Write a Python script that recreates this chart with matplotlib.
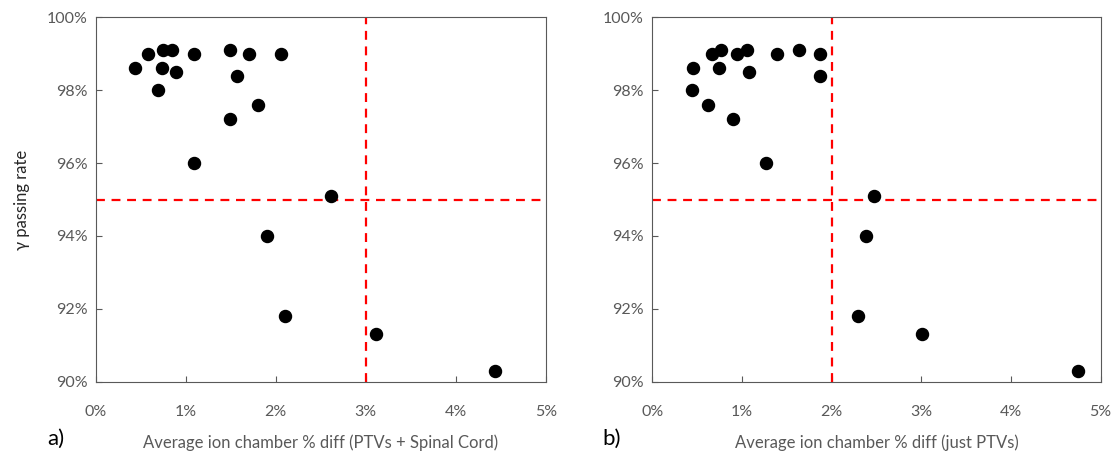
import matplotlib.pyplot as plt
from matplotlib.ticker import FuncFormatter

plt.rcParams['font.family'] = ['Lato', 'DejaVu Sans']

# panel a) PTVs + spinal cord
diff_a = [0.44, 0.58, 0.75, 0.85, 0.74, 0.89, 0.69, 1.09, 1.09, 1.49,
          1.70, 1.57, 1.80, 1.49, 2.06, 2.61, 1.90, 2.10, 3.11, 4.44]
pass_a = [98.6, 99.0, 99.1, 99.1, 98.6, 98.5, 98.0, 99.0, 96.0, 99.1,
          99.0, 98.4, 97.6, 97.2, 99.0, 95.1, 94.0, 91.8, 91.3, 90.3]

# panel b) just PTVs
diff_b = [0.45, 0.44, 0.62, 0.67, 0.77, 0.74, 0.90, 0.95, 1.06, 1.08,
          1.27, 1.39, 1.64, 1.87, 1.87, 2.47, 2.38, 2.29, 3.01, 4.75]
pass_b = [98.6, 98.0, 97.6, 99.0, 99.1, 98.6, 97.2, 99.0, 99.1, 98.5,
          96.0, 99.0, 99.1, 99.0, 98.4, 95.1, 94.0, 91.8, 91.3, 90.3]

gamma_limit = 95
diff_limit_a = 3
diff_limit_b = 2

xlab_a = "Average ion chamber % diff (PTVs + Spinal Cord)"
xlab_b = "Average ion chamber % diff (just PTVs)"

fig = plt.figure(figsize=(11.18, 4.55), dpi=100)
ax1 = fig.add_axes([0.0856, 0.161, 0.4025, 0.801])
ax2 = fig.add_axes([0.5834, 0.161, 0.401, 0.801])

pct = FuncFormatter(lambda v, p: "%d%%" % round(v))

for ax, xs, ys, vlim, xlab in [(ax1, diff_a, pass_a, diff_limit_a, xlab_a),
                               (ax2, diff_b, pass_b, diff_limit_b, xlab_b)]:
    ax.scatter(xs, ys, s=75, color='black', zorder=3)
    ax.axhline(gamma_limit, color='red', lw=1.6, ls=(0, (4, 3)), zorder=2)
    ax.axvline(vlim, color='red', lw=1.6, ls=(0, (4, 3)), zorder=2)
    ax.set_xlim(0, 5)
    ax.set_ylim(90, 100)
    ax.set_xticks(range(0, 6))
    ax.set_yticks(range(90, 101, 2))
    ax.xaxis.set_major_formatter(pct)
    ax.yaxis.set_major_formatter(pct)
    ax.tick_params(direction='in', length=4, color='#595959', labelsize=11.5,
                   labelcolor='#595959')
    ax.tick_params(axis='x', pad=17)
    ax.tick_params(axis='y', pad=6)
    for sp in ax.spines.values():
        sp.set_color('#595959')
    ax.set_xlabel(xlab, fontsize=12, color='#595959', labelpad=11)

ax1.set_ylabel("γ passing rate", fontsize=12, color='#262626', labelpad=12)
fig.text(0.042, 0.022, "a)", fontsize=16, color='black', va='baseline')
fig.text(0.539, 0.022, "b)", fontsize=16, color='black', va='baseline')

fig.savefig("out.png", dpi=100)
